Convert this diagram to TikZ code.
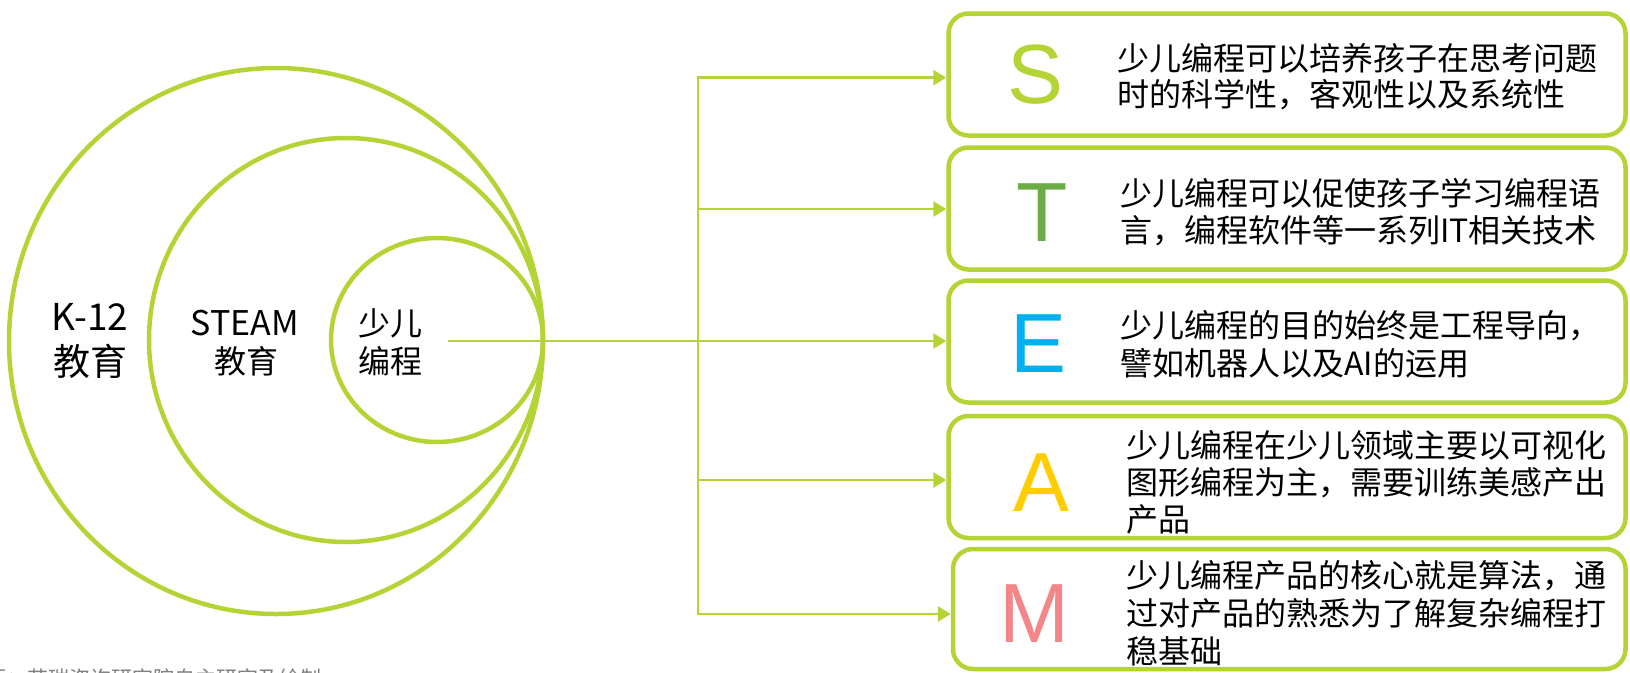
\documentclass[tikz,border=0pt]{standalone}
\usepackage{fontspec}
\setmainfont{Liberation Sans}
\newfontfamily\cjk{Noto Sans CJK SC}
\usetikzlibrary{arrows.meta}
\definecolor{lime}{RGB}{180,211,52}
\definecolor{tgreen}{RGB}{108,172,70}
\definecolor{eblue}{RGB}{0,176,240}
\definecolor{ayellow}{RGB}{255,204,0}
\definecolor{mpink}{RGB}{242,134,136}
\definecolor{srcgray}{RGB}{128,128,128}
\begin{document}
\begin{tikzpicture}[x=1pt,y=-1pt,
  ring/.style={draw=lime, line width=4.5pt},
  card/.style={draw=lime, line width=4.5pt, rounded corners=20pt, inner sep=0pt, minimum width=677pt, minimum height=122pt},
  tip/.style={Triangle[length=13pt,width=15pt]},
  link/.style={draw=lime, line width=2.8pt, -{Triangle[length=13pt,width=15pt]}},
  bigletter/.style={font=\fontsize{84}{84}\selectfont, anchor=base, inner sep=0pt},
  boxtxt/.style={font=\cjk\fontsize{32}{32}\selectfont, anchor=base west, inner sep=0pt},
  circtxt/.style={anchor=base, inner sep=0pt},
]
\useasboundingbox (0,0) rectangle (1630,672);
\clip (0,0) rectangle (1630,672);

% nested circles
\draw[ring] (276,341) ellipse [x radius=267pt, y radius=273pt];
\draw[ring] (346,340) ellipse [x radius=197pt, y radius=202pt];
\draw[ring] (437,340) ellipse [x radius=106pt, y radius=102pt];

\node[circtxt, font=\cjk\fontsize{37}{37}\selectfont] (k12) at (90,330) {K-12};
\node[circtxt, font=\cjk\fontsize{37}{37}\selectfont] (k12edu) at (90,375) {教育};
\node[circtxt, font=\cjk\fontsize{34}{34}\selectfont] (steam) at (245,335) {STEAM};
\node[circtxt, font=\cjk\fontsize{32}{32}\selectfont] (steamedu) at (246,373) {教育};
\node[circtxt, font=\cjk\fontsize{32}{32}\selectfont] (kid) at (390,335) {少儿};
\node[circtxt, font=\cjk\fontsize{32}{32}\selectfont] (prog) at (390,373) {编程};

% boxes
\node[card] (bS) at (1287,74.5) {};
\node[card] (bT) at (1287,208.5) {};
\node[card] (bE) at (1287,341.5) {};
\node[card] (bA) at (1287,477) {};
\node[card, minimum width=672.5pt, minimum height=120pt] (bM) at (1289.25,609) {};

% big letters
\node[bigletter, text=lime] (lS) at (1036,103) {S};
\node[bigletter, text=tgreen] (lT) at (1042,241) {T};
\node[bigletter, text=eblue] (lE) at (1039,372) {E};
\node[bigletter, text=ayellow] (lA) at (1042,511) {A};
\node[bigletter, text=mpink] (lM) at (1034.5,642) {M};

% box texts
\node[boxtxt] (s1) at (1117,70) {少儿编程可以培养孩子在思考问题};
\node[boxtxt] (s2) at (1117,106.5) {时的科学性，客观性以及系统性};
\node[boxtxt] (t1) at (1120,205) {少儿编程可以促使孩子学习编程语};
\node[boxtxt] (t2) at (1120,242) {言，编程软件等一系列IT相关技术};
\node[boxtxt] (e1) at (1120,337) {少儿编程的目的始终是工程导向，};
\node[boxtxt] (e2) at (1120,375) {譬如机器人以及AI的运用};
\node[boxtxt] (a1) at (1126,457) {少儿编程在少儿领域主要以可视化};
\node[boxtxt] (a2) at (1126,494) {图形编程为主，需要训练美感产出};
\node[boxtxt] (a3) at (1126,531) {产品};
\node[boxtxt] (m1) at (1126,587) {少儿编程产品的核心就是算法，通};
\node[boxtxt] (m2) at (1126,625) {过对产品的熟悉为了解复杂编程打};
\node[boxtxt] (m3) at (1126,663) {稳基础};

% connectors
\coordinate (src) at (448,341);
\coordinate (jS) at (698,77.7);
\coordinate (jT) at (698,209);
\coordinate (jA) at (698,480);
\coordinate (jM) at (698,614);
\draw[draw=lime, line width=2.8pt, {Triangle[length=13pt,width=15pt]}-{Triangle[length=13pt,width=15pt]}]
  (jS -| bS.west) -- (jS) -- (jM) -- (jM -| bM.west);
\draw[link] (jT) -- (jT -| bT.west);
\draw[link] (src) -- (src -| bE.west);
\draw[link] (jA) -- (jA -| bA.west);

% source line (cut off at the bottom edge)
\node[anchor=base west, inner sep=0pt, text=srcgray, font=\cjk\fontsize{21}{21}\selectfont] (source) at (-15,686) {源：艾瑞咨询研究院自主研究及绘制};
\end{tikzpicture}
\end{document}
